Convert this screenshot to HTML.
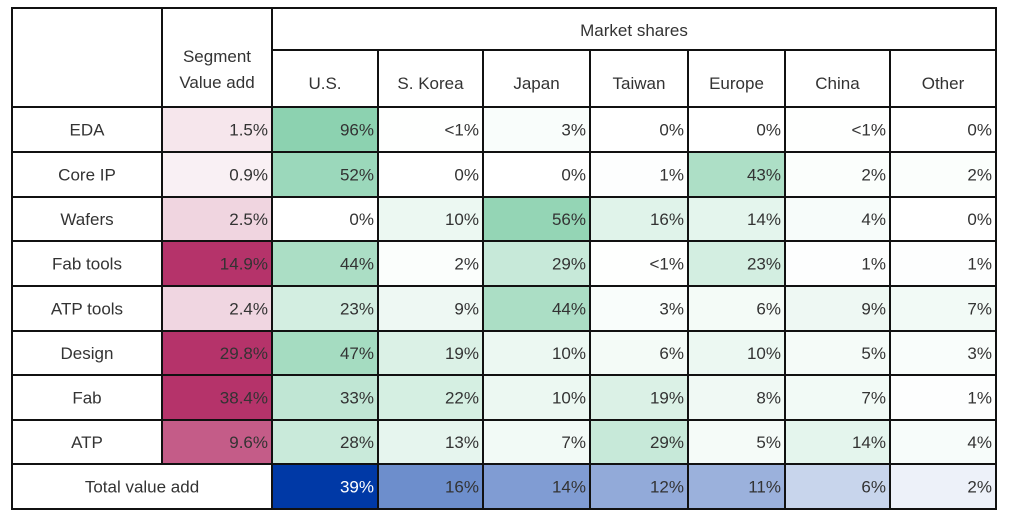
<!DOCTYPE html>
<html><head><meta charset="utf-8"><style>
body{margin:0;background:#fff;width:1024px;height:516px;overflow:hidden}
svg text{font-family:"Liberation Sans",sans-serif;font-size:17px;fill:#333}
</style></head><body>
<svg id="chart" width="1024" height="516" xmlns="http://www.w3.org/2000/svg"></svg>
<script>
const segments=["EDA","Core IP","Wafers","Fab tools","ATP tools","Design","Fab","ATP"];
const regions=["U.S.","S. Korea","Japan","Taiwan","Europe","China","Other"];
const valueAdd=[1.5,0.9,2.5,14.9,2.4,29.8,38.4,9.6];
const shares=[
[96,0.5,3,0,0,0.5,0],
[52,0,0,1,43,2,2],
[0,10,56,16,14,4,0],
[44,2,29,0.5,23,1,1],
[23,9,44,3,6,9,7],
[47,19,10,6,10,5,3],
[33,22,10,19,8,7,1],
[28,13,7,29,5,14,4]];
const totals=[39,16,14,12,11,6,2];

const svg=document.getElementById('chart');
const NS="http://www.w3.org/2000/svg";
const colX=[12,162,272,378,483,590,688,785,890,996];
const rowY=[8,50,107,152,197,241,286,331,375,420,464,509];
function mix(c,t){t=Math.max(0,Math.min(1,t));return `rgb(${Math.round(255-(255-c[0])*t)},${Math.round(255-(255-c[1])*t)},${Math.round(255-(255-c[2])*t)})`;}
function rect(x,y,w,h,fill,name){const r=document.createElementNS(NS,'rect');r.setAttribute('x',x);r.setAttribute('y',y);r.setAttribute('width',w);r.setAttribute('height',h);r.setAttribute('fill',fill);r.setAttribute('stroke','#111');r.setAttribute('stroke-width','2');


svg.appendChild(r);return r;}
function text(x,y,s,anchor,name,color){const t=document.createElementNS(NS,'text');t.setAttribute('x',x);t.setAttribute('y',y);t.setAttribute('text-anchor',anchor);if(color)t.setAttribute('style','fill:'+color);t.textContent=s;


svg.appendChild(t);return t;}
function fmt(v){return v===0.5?'<1%':v+'%';}
// header
rect(colX[0],rowY[0],colX[1]-colX[0],rowY[2]-rowY[0],'#fff','corner-cell');
rect(colX[1],rowY[0],colX[2]-colX[1],rowY[2]-rowY[0],'#fff','segment-header-cell');
text((colX[1]+colX[2])/2,62,'Segment','middle','segment-header');
text((colX[1]+colX[2])/2,88,'Value add','middle','value-add-header');
rect(colX[2],rowY[0],colX[9]-colX[2],rowY[1]-rowY[0],'#fff','market-shares-header-cell');
text((colX[2]+colX[9])/2,36,'Market shares','middle','market-shares-header');
regions.forEach((r,i)=>{rect(colX[i+2],rowY[1],colX[i+3]-colX[i+2],rowY[2]-rowY[1],'#fff','region-header-cell');
text((colX[i+2]+colX[i+3])/2,89,r,'middle','region-header');});
// body
segments.forEach((s,j)=>{const y0=rowY[j+2],h=rowY[j+3]-y0,ty=y0+h/2+6;
rect(colX[0],y0,colX[1]-colX[0],h,'#fff','segment-label-cell');
text((colX[0]+colX[1])/2,ty,s,'middle','segment-label');
rect(colX[1],y0,colX[2]-colX[1],h,mix([181,51,106],valueAdd[j]/12),'value-add-cell');
text(colX[2]-4,ty,valueAdd[j].toFixed(1)+'%','end','value-add-value');
shares[j].forEach((v,i)=>{rect(colX[i+2],y0,colX[i+3]-colX[i+2],h,mix([140,210,176],v/60),'share-cell');
text(colX[i+3]-4,ty,fmt(v),'end','share-value');});
});
// totals
const y0=rowY[10],h=rowY[11]-y0,ty=y0+h/2+6;
rect(colX[0],y0,colX[2]-colX[0],h,'#fff','total-label-cell');
text((colX[0]+colX[2])/2,ty,'Total value add','middle','total-label');
totals.forEach((v,i)=>{rect(colX[i+2],y0,colX[i+3]-colX[i+2],h,mix([0,57,166],v/28),'total-cell');
text(colX[i+3]-4,ty,v+'%','end','total-value',v>25?'#fff':null);});
</script>
</body></html>
